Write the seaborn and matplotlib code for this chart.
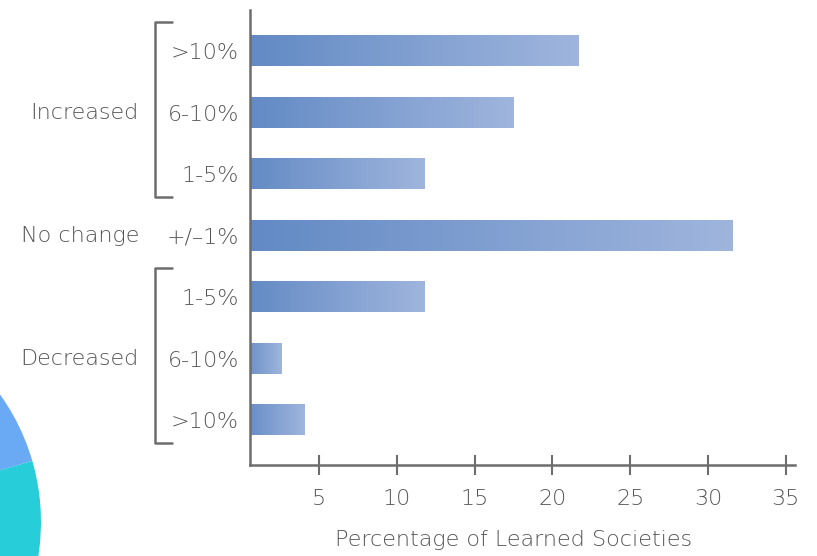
import numpy as np
import pandas as pd
import matplotlib
matplotlib.use("Agg")
import matplotlib.pyplot as plt
import seaborn as sns
from matplotlib.colors import LinearSegmentedColormap
from matplotlib.transforms import blended_transform_factory
from matplotlib.patches import Wedge

# ---- data ----
groups = ["Increased", "Increased", "Increased", "No change", "Decreased", "Decreased", "Decreased"]
ranges = [">10%", "6-10%", "1-5%", "+/\u20131%", "1-5%", "6-10%", ">10%"]
values = [21.7, 17.5, 11.75, 31.6, 11.75, 2.55, 4.03]
x_ticks = [5, 10, 15, 20, 25, 30, 35]
x_label = "Percentage of Learned Societies"

keys = [f"{g} {r}" for g, r in zip(groups, ranges)]
df = pd.DataFrame({"key": keys, "value": values})

sns.set_theme(style="white")
plt.rcParams["font.family"] = ["DejaVu Sans"]
plt.rcParams["font.weight"] = "light"
GRAY = "#6d6d6d"
TXT = "#555555"
FS = 16

W, H = 817, 556
fig = plt.figure(figsize=(W / 100, H / 100), dpi=100)
ax = fig.add_axes([250 / W, (H - 465) / H, (795 - 250) / W, (465 - 10) / H])

sns.barplot(data=df, y="key", x="value", order=keys, orient="h", width=0.49,
            color="#6a8fc8", ax=ax)

cmap = LinearSegmentedColormap.from_list("g", ["#6189c4", "#9fb5dd"])
grad = np.linspace(0, 1, 256).reshape(1, -1)
for p in ax.patches:
    x0, y0 = p.get_x(), p.get_y()
    w, h = p.get_width(), p.get_height()
    ax.imshow(grad, extent=[x0, x0 + w, y0 + h, y0], aspect="auto", cmap=cmap,
              zorder=2, interpolation="bilinear")
    p.set_visible(False)

ax.set_xlim(0.55, 35.6)
ax.set_ylim(6.73, -0.67)
ax.set_xticks(x_ticks)
ax.set_xticklabels([str(t) for t in x_ticks])
ax.set_yticks(range(len(keys)))
ax.set_yticklabels(ranges)
ax.set_ylabel("")
ax.set_xlabel(x_label, fontsize=FS, color=TXT, fontweight="light")
ax.xaxis.set_label_coords((514 - 250) / (795 - 250), -(540 - 465) / (465 - 10))
ax.xaxis.label.set_va("center")

for side in ["top", "right"]:
    ax.spines[side].set_visible(False)
for side in ["left", "bottom"]:
    ax.spines[side].set_color(GRAY)
    ax.spines[side].set_linewidth(1.8)

ax.tick_params(axis="x", direction="inout", length=15, width=1.5, color=GRAY,
               labelcolor=TXT, labelsize=FS, pad=10, bottom=True)
ax.tick_params(axis="y", length=0, labelcolor=TXT, labelsize=FS, pad=8)

# group brackets and labels
tr = blended_transform_factory(fig.transFigure, ax.transData)
bx0, bx1 = 155 / W, 172 / W
for (a, b) in [(0, 2), (4, 6)]:
    ya, yb = a - 0.47, b + 0.37
    ax.plot([bx1, bx0, bx0, bx1], [ya, ya, yb, yb], color=GRAY, lw=1.8,
            transform=tr, clip_on=False)
for label, yc in [("Increased", 1), ("No change", 3), ("Decreased", 5)]:
    ax.text(139 / W, yc, label, transform=tr, ha="right", va="center",
            fontsize=FS, color=TXT, fontweight="light")

# decorative pie fragment at bottom-left
r = 219
ang = 16.2
wb = Wedge((-178, H - 522), r, ang, 120, facecolor="#6aaaf5", edgecolor="none",
           transform=None)
wc = Wedge((-178, H - 522), r, -60, ang, facecolor="#27cdd9", edgecolor="none",
           transform=None)
fig.patches.extend([wb, wc])

fig.savefig("out.png", dpi=100)
